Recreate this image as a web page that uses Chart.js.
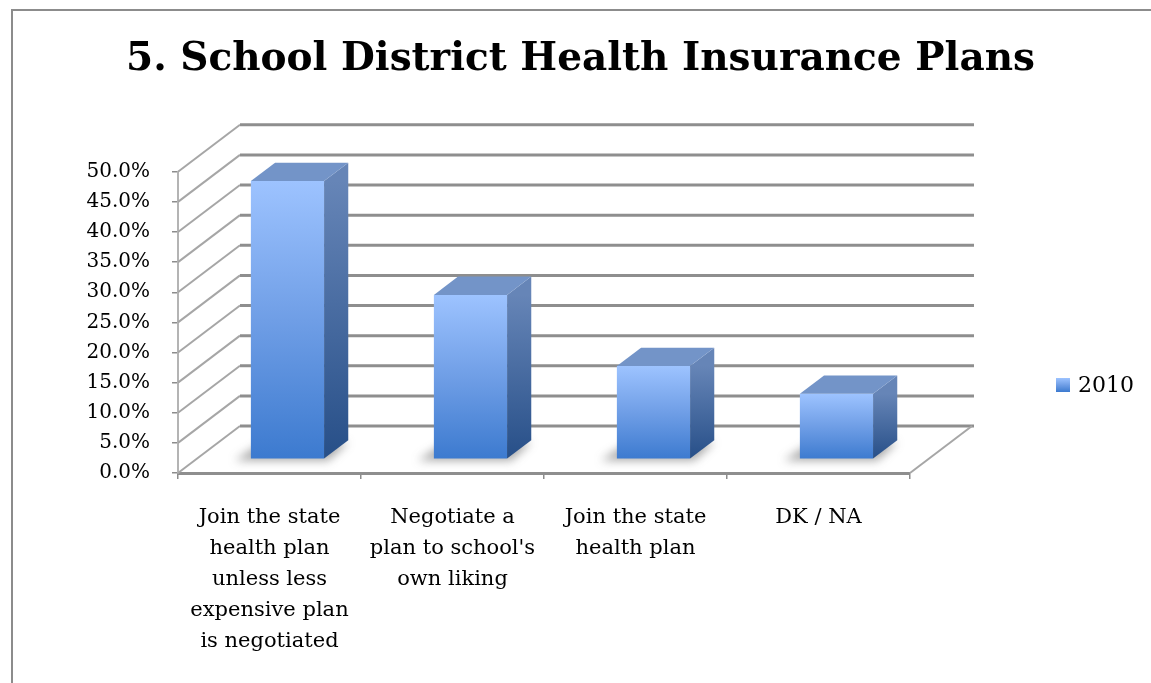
<!DOCTYPE html>
<html>
<head>
<meta charset="utf-8">
<script src="https://cdn.jsdelivr.net/npm/chart.js@4/dist/chart.umd.min.js"></script>
<style>
  html, body { margin: 0; padding: 0; background: #fff; overflow: hidden; }
  #wrap { position: relative; width: 1151px; height: 683px; }
  #frame { position: absolute; left: 11px; top: 9px; width: 1200px; height: 700px;
           border-left: 2px solid #8c8c8c; border-top: 2px solid #8c8c8c; }
  canvas { position: absolute; left: 0; top: 0; }
</style>
</head>
<body>
<div id="wrap">
  <div id="frame"></div>
  <canvas id="chart" width="1151" height="683"></canvas>
</div>
<script>
// data
const categories = [
  ["Join the state", "health plan", "unless less", "expensive plan", "is negotiated"],
  ["Negotiate a", "plan to school's", "own liking"],
  ["Join the state", "health plan"],
  ["DK / NA"]
];
const seriesName = "2010";
const seriesValues = [0.462, 0.273, 0.155, 0.109];
const yTickStep = 0.05;
const yMax = 0.5;

const FONT = "'DejaVu Serif', 'Liberation Serif', serif";

// fake 3d: how far the back wall sits from the front plane
const DX = 62, DY = -47;
const Z0 = 0.29, Z1 = 0.68; // bar depth, as fraction of the floor depth

function line(ctx, x1, y1, x2, y2) {
  ctx.beginPath();
  ctx.moveTo(x1, y1);
  ctx.lineTo(x2, y2);
  ctx.stroke();
}

function poly(ctx, pts) {
  ctx.beginPath();
  ctx.moveTo(pts[0][0], pts[0][1]);
  for (let i = 1; i < pts.length; i++) ctx.lineTo(pts[i][0], pts[i][1]);
  ctx.closePath();
  ctx.fill();
}

function frontGradient(ctx, top, bottom) {
  const g = ctx.createLinearGradient(0, top, 0, bottom);
  g.addColorStop(0, "#9dc3ff");
  g.addColorStop(0.5, "#6f9ee6");
  g.addColorStop(1, "#3c7acf");
  return g;
}

const threeD = {
  id: "threeD",
  beforeDatasetsDraw(chart) {
    const { ctx, chartArea: a, scales: { y } } = chart;
    ctx.save();
    // side wall diagonals + back wall grid
    y.ticks.forEach((t) => {
      const py = y.getPixelForValue(t.value);
      ctx.strokeStyle = "#a6a6a6";
      ctx.lineWidth = 2;
      line(ctx, a.left, py, a.left + DX, py + DY);
      ctx.strokeStyle = "#8e8e8e";
      ctx.lineWidth = 3;
      line(ctx, a.left + DX, py + DY, a.right + DX + 2, py + DY);
    });
    // right edge of the floor
    ctx.strokeStyle = "#a6a6a6";
    ctx.lineWidth = 2;
    line(ctx, a.right, a.bottom, a.right + DX, a.bottom + DY);

    // soft shadows under the bars
    const meta = chart.getDatasetMeta(0);
    ctx.filter = "blur(5px)";
    ctx.fillStyle = "rgba(60,60,60,0.45)";
    meta.data.forEach((bar) => {
      const { x, base, width } = bar.getProps(["x", "base", "width"], true);
      const l = x - width / 2 + DX * Z0, r = x + width / 2 + DX * Z0;
      const b = base + DY * Z0;
      const ddx = DX * (Z1 - Z0), ddy = DY * (Z1 - Z0);
      poly(ctx, [[l - 16, b + 2], [r + 4, b + 2], [r + ddx, b + ddy + 2], [l + ddx - 12, b + ddy + 2]]);
    });
    ctx.restore();

    // the library draws the front faces, pushed back into the floor
    ctx.save();
    ctx.translate(DX * Z0, DY * Z0);
  },
  afterDatasetsDraw(chart) {
    const { ctx } = chart;
    ctx.restore();
    const meta = chart.getDatasetMeta(0);
    const ddx = DX * (Z1 - Z0), ddy = DY * (Z1 - Z0);
    meta.data.forEach((bar) => {
      const { x, y, base, width } = bar.getProps(["x", "y", "base", "width"], true);
      const l = x - width / 2 + DX * Z0, r = x + width / 2 + DX * Z0;
      const t = y + DY * Z0, b = base + DY * Z0;
      // side face
      const sg = ctx.createLinearGradient(0, t, 0, b);
      sg.addColorStop(0, "#6685b7");
      sg.addColorStop(1, "#274f88");
      ctx.fillStyle = sg;
      poly(ctx, [[r, t], [r + ddx, t + ddy], [r + ddx, b + ddy], [r, b]]);
      // top face
      ctx.fillStyle = "#7394c8";
      poly(ctx, [[l, t], [l + ddx, t + ddy], [r + ddx, t + ddy], [r, t]]);
    });
  },
  afterDraw(chart) {
    // legend
    const { ctx } = chart;
    const lx = 1056, ly = 385, box = 14;
    ctx.save();
    ctx.fillStyle = frontGradient(ctx, ly - box / 2, ly + box / 2);
    ctx.fillRect(lx, ly - box / 2, box, box);
    ctx.fillStyle = "#000";
    ctx.font = "22px " + FONT;
    ctx.textBaseline = "middle";
    ctx.fillText(chart.data.datasets[0].label, lx + box + 8, ly + 1);
    ctx.restore();
  }
};

new Chart(document.getElementById("chart"), {
  type: "bar",
  data: {
    labels: categories,
    datasets: [{
      label: seriesName,
      data: seriesValues,
      backgroundColor: (c) => {
        const chart = c.chart;
        if (!chart.chartArea || !c.parsed) return "#6f9ee6";
        const ys = chart.scales.y;
        return frontGradient(chart.ctx, ys.getPixelForValue(c.parsed.y), ys.getPixelForValue(0));
      },
      borderWidth: 0,
      barPercentage: 0.4,
      categoryPercentage: 1.0,
      clip: false
    }]
  },
  options: {
    responsive: false,
    devicePixelRatio: 1,
    animation: false,
    layout: { padding: { left: 10, right: 0, top: 0, bottom: 0 } },
    plugins: {
      legend: { display: false },
      tooltip: { enabled: false },
      title: {
        display: true,
        text: "5. School District Health Insurance Plans",
        color: "#000",
        font: { family: FONT, size: 39, weight: "bold", lineHeight: 1.2 },
        padding: { top: 36, bottom: 89 }
      }
    },
    scales: {
      x: {
        grid: { offset: true, drawOnChartArea: false, tickLength: 6, color: "#8c8c8c", lineWidth: 1.5 },
        border: { display: true, color: "#8e8e8e", width: 3 },
        ticks: {
          color: "#000",
          padding: 23,
          maxRotation: 0,
          autoSkip: false,
          font: { family: FONT, size: 21, lineHeight: 1.476 }
        },
        afterFit: (s) => { s.height = 210; }
      },
      y: {
        min: 0,
        max: yMax,
        grid: { drawOnChartArea: false, tickLength: 6, color: "#8c8c8c", lineWidth: 1.5 },
        border: { display: true, color: "#b4b4b4", width: 2 },
        ticks: {
          stepSize: yTickStep,
          color: "#000",
          padding: 22,
          font: { family: FONT, size: 20 },
          callback: (v) => (v * 100).toFixed(1) + "%"
        },
        afterFit: (s) => { s.width = 168; }
      },
      // empty right-hand strip that holds the back wall and the legend
      side: {
        position: "right",
        grid: { display: false },
        border: { display: false },
        ticks: { display: false },
        afterFit: (s) => { s.width = 241; }
      }
    }
  },
  plugins: [threeD]
});
</script>
</body>
</html>
